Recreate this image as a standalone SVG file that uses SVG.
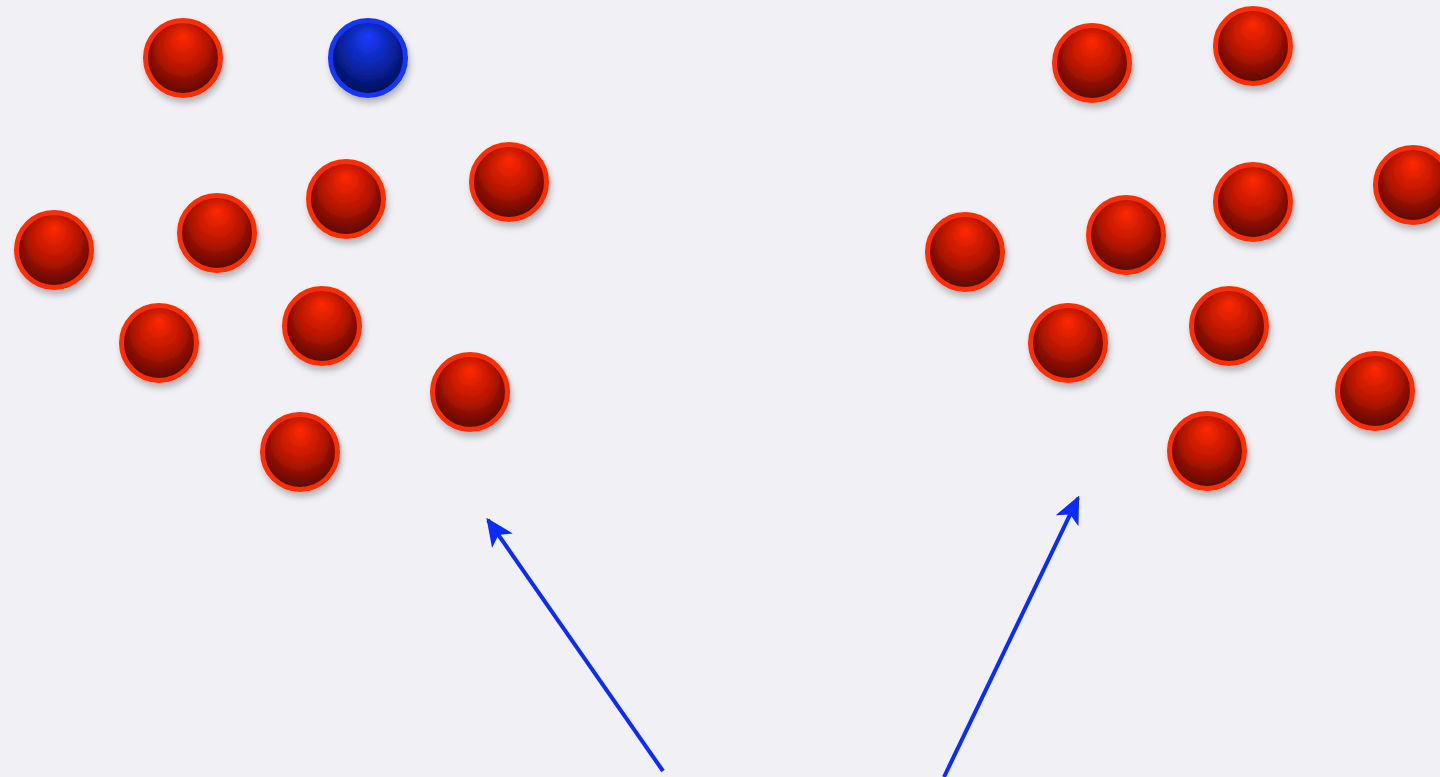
<svg xmlns="http://www.w3.org/2000/svg" width="1440" height="777" viewBox="0 0 1440 777">
<defs>
<radialGradient id="gr" cx="0.5" cy="0.45" r="0.62" fx="0.5" fy="0.2">
<stop offset="0" stop-color="#ff2a00"/>
<stop offset="0.5" stop-color="#b81600"/>
<stop offset="1" stop-color="#3e0500"/>
</radialGradient>
<radialGradient id="gb" cx="0.5" cy="0.45" r="0.62" fx="0.5" fy="0.2">
<stop offset="0" stop-color="#1a3cff"/>
<stop offset="0.5" stop-color="#0a26a8"/>
<stop offset="1" stop-color="#000840"/>
</radialGradient>
<filter id="sh" x="-30%" y="-30%" width="160%" height="170%">
<feDropShadow dx="2" dy="5" stdDeviation="3" flood-color="#000" flood-opacity="0.25"/>
</filter>
<marker id="ah" viewBox="0 0 10 10" refX="9" refY="5" markerWidth="7" markerHeight="7" markerUnits="strokeWidth" orient="auto">
<path d="M0,0.5 L10,5 L0,9.5 L2.5,5 Z" fill="#0a2cff"/>
</marker>
<style>
.r{fill:url(#gr);stroke:#ff2d00;stroke-width:5;filter:url(#sh)}
.b{fill:url(#gb);stroke:#1236ff;stroke-width:5;filter:url(#sh)}
.a{stroke:#0a2cff;stroke-width:4;fill:none;marker-end:url(#ah)}
</style>
</defs>
<rect width="1440" height="777" fill="#f1f0f5"/>
<g id="left-group">
<circle id="n1" class="r" cx="183" cy="58" r="37.5"/>
<circle id="n2" class="b" cx="368" cy="58" r="37.5"/>
<circle id="n3" class="r" cx="346" cy="199" r="37.5"/>
<circle id="n4" class="r" cx="509" cy="182" r="37.5"/>
<circle id="n5" class="r" cx="54" cy="250" r="37.5"/>
<circle id="n6" class="r" cx="217" cy="233" r="37.5"/>
<circle id="n7" class="r" cx="159" cy="343" r="37.5"/>
<circle id="n8" class="r" cx="322" cy="326" r="37.5"/>
<circle id="n9" class="r" cx="470" cy="392" r="37.5"/>
<circle id="n10" class="r" cx="300" cy="452" r="37.5"/>
</g>
<g id="right-group">
<circle id="m1" class="r" cx="1092" cy="63" r="37.5"/>
<circle id="m2" class="r" cx="1253" cy="46" r="37.5"/>
<circle id="m3" class="r" cx="1253" cy="202" r="37.5"/>
<circle id="m4" class="r" cx="1413" cy="185" r="37.5"/>
<circle id="m5" class="r" cx="965" cy="252" r="37.5"/>
<circle id="m6" class="r" cx="1126" cy="235" r="37.5"/>
<circle id="m7" class="r" cx="1068" cy="343" r="37.5"/>
<circle id="m8" class="r" cx="1229" cy="326" r="37.5"/>
<circle id="m9" class="r" cx="1375" cy="391" r="37.5"/>
<circle id="m10" class="r" cx="1207" cy="451" r="37.5"/>
</g>
<g id="connectors">
<line class="a" x1="663" y1="771" x2="488" y2="520"/>
<line class="a" x1="944" y1="777" x2="1078" y2="498"/>
</g>
</svg>
